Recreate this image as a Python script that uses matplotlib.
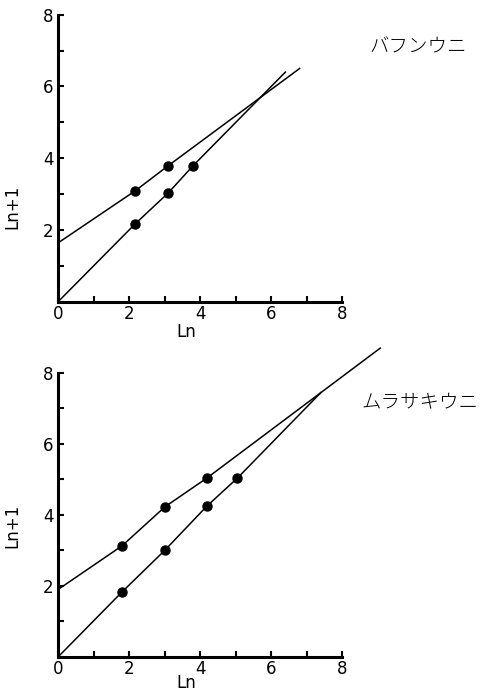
import matplotlib
matplotlib.use('Agg')
import matplotlib.pyplot as plt

# top panel: バフンウニ
top_upper_x = [0, 2.17, 3.1, 6.8]
top_upper_y = [1.64, 3.09, 3.79, 6.5]
top_lower_x = [0, 2.17, 3.1, 3.8, 6.4]
top_lower_y = [0, 2.17, 3.03, 3.79, 6.4]
top_upper_pts = ([2.17, 3.1], [3.09, 3.79])
top_lower_pts = ([2.17, 3.1, 3.8], [2.17, 3.03, 3.79])

# bottom panel: ムラサキウニ
bot_upper_x = [0, 1.8, 3.01, 4.19, 9.07]
bot_upper_y = [1.9, 3.13, 4.23, 5.04, 8.7]
bot_lower_x = [0, 1.8, 3.01, 4.19, 5.05, 7.4]
bot_lower_y = [0, 1.83, 3.01, 4.25, 5.04, 7.45]
bot_upper_pts = ([1.8, 3.01, 4.19], [3.13, 4.23, 5.04])
bot_lower_pts = ([1.8, 3.01, 4.19, 5.05], [1.83, 3.01, 4.25, 5.04])

species = ['バフンウニ', 'ムラサキウニ']
ticks = [0, 2, 4, 6, 8]

plt.rcParams['font.family'] = ['DejaVu Sans', 'Noto Sans CJK JP']
plt.rcParams['font.size'] = 12

fig = plt.figure(figsize=(4.96, 6.97), dpi=100)
ax1 = fig.add_axes([0.117, 0.567, 0.573, 0.412])
ax2 = fig.add_axes([0.117, 0.0574, 0.573, 0.4075])


def style(ax):
    ax.set_xlim(0, 8)
    ax.set_ylim(0, 8)
    for s in ('top', 'right'):
        ax.spines[s].set_visible(False)
    for s in ('left', 'bottom'):
        ax.spines[s].set_linewidth(2.2)
    ax.set_xticks(ticks)
    ax.set_xticklabels([str(t) for t in ticks])
    ax.set_yticks(ticks)
    ax.set_yticklabels([''] + [str(t) for t in ticks[1:]])
    ax.set_xticks([1, 3, 5, 7], minor=True)
    ax.set_yticks([1, 3, 5, 7], minor=True)
    ax.tick_params(which='both', direction='in', length=4, width=1.5, pad=3)
    ax.tick_params(axis='x', pad=2)


def draw(ax, ux, uy, lx, ly, upts, lpts):
    ax.plot(ux, uy, 'k-', lw=1.1, clip_on=False)
    ax.plot(lx, ly, 'k-', lw=1.1, clip_on=False)
    ax.plot(*upts, 'ko', ms=6.5, clip_on=False)
    ax.plot(*lpts, 'ko', ms=6.5, clip_on=False)


style(ax1)
style(ax2)
draw(ax1, top_upper_x, top_upper_y, top_lower_x, top_lower_y, top_upper_pts, top_lower_pts)
draw(ax2, bot_upper_x, bot_upper_y, bot_lower_x, bot_lower_y, bot_upper_pts, bot_lower_pts)

for ax, ly, lx in ((ax1, 0.33, -0.075), (ax2, 0.46, -0.06)):
    ax.set_xlabel('Ln', labelpad=-3)
    ax.xaxis.set_label_coords(0.45, lx)
    ax.set_ylabel('Ln+1')
    ax.yaxis.set_label_coords(-0.13, ly)

fig.text(0.745, 0.925, species[0], family='Noto Sans CJK JP', fontsize=14,
         fontweight='light')
fig.text(0.728, 0.415, species[1], family='Noto Sans CJK JP', fontsize=14,
         fontweight='light')

fig.savefig('out.png', dpi=100)
